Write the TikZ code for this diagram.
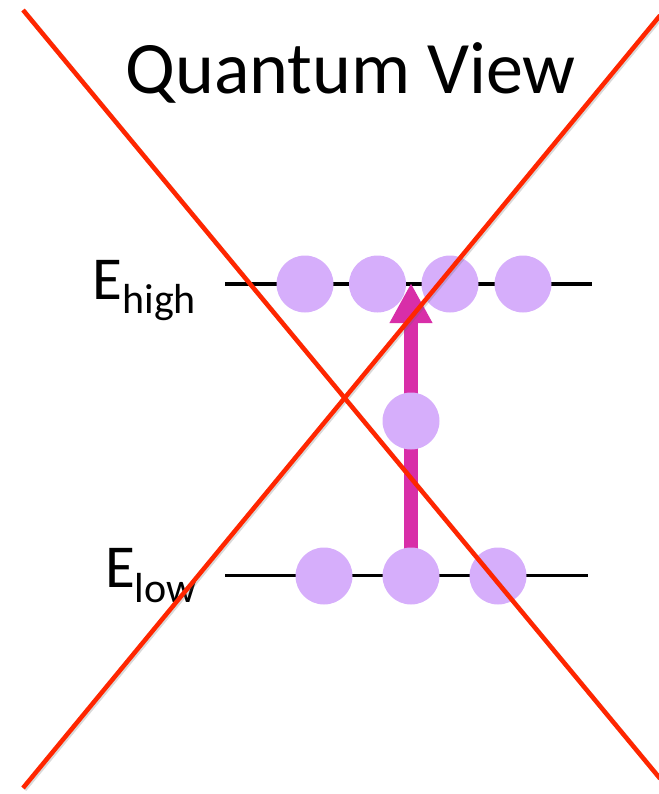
\documentclass[tikz,border=0pt]{standalone}
\usepackage{fontspec}
\setmainfont{Carlito}
\usetikzlibrary{arrows.meta}
\definecolor{cross}{RGB}{255,38,0}
\definecolor{lav}{RGB}{214,174,251}
\definecolor{mag}{RGB}{216,46,168}
\tikzset{
  particle/.style={circle, fill=lav, minimum size=57pt, inner sep=0pt},
  level/.style={black, line width=3.5pt},
  crossline/.style={cross, line width=4.5pt},
  crossshadow/.style={black!60, opacity=0.25, line width=4.5pt},
  label/.style={anchor=base west, inner sep=0pt}
}
\begin{document}
\begin{tikzpicture}[x=1pt,y=-1pt]
\useasboundingbox (0,0) rectangle (658,794);
% title
\node[anchor=base, inner sep=0pt] (title) at (350.5,93.3) {\fontsize{74}{74}\selectfont Quantum View};
% labels
\node[label] (ehigh) at (92.5,299.3) {\fontsize{61}{61}\selectfont E\raisebox{-14pt}{\fontsize{42}{42}\selectfont high}};
\node[label] (elow) at (104.8,587) {\fontsize{61}{61}\selectfont E\raisebox{-15pt}{\fontsize{42}{42}\selectfont low}};
% level lines
\coordinate (hl) at (225,284);
\coordinate (hr) at (592,284);
\coordinate (ll) at (225,575.5);
\coordinate (lr) at (588,575.5);
\draw[level] (hl) -- (hr);
\draw[level] (ll) -- (lr);
% arrow
\coordinate (tip) at (411,283);
\coordinate (base) at (411,560);
\draw[mag, line width=14pt, -{Triangle[width=40pt,length=40pt]}] (base) -- (tip);
% particles
\node[particle] (h1) at (305,284) {};
\node[particle] (h2) at (377.5,284) {};
\node[particle] (h3) at (450,284) {};
\node[particle] (h4) at (523,284) {};
\node[particle] (m1) at (411,421) {};
\node[particle] (l1) at (324,576) {};
\node[particle] (l2) at (411,576) {};
\node[particle] (l3) at (498,576) {};
% cross
\coordinate (a1) at (23,10);
\coordinate (a2) at (660,778.5);
\coordinate (b1) at (23,788);
\coordinate (b2) at (660,15.5);
\draw[crossshadow] ([shift={(1.5,1.5)}]a1) -- ([shift={(1.5,1.5)}]a2);
\draw[crossshadow] ([shift={(1.5,1.5)}]b1) -- ([shift={(1.5,1.5)}]b2);
\draw[crossline] (a1) -- (a2);
\draw[crossline] (b1) -- (b2);
\end{tikzpicture}
\end{document}
